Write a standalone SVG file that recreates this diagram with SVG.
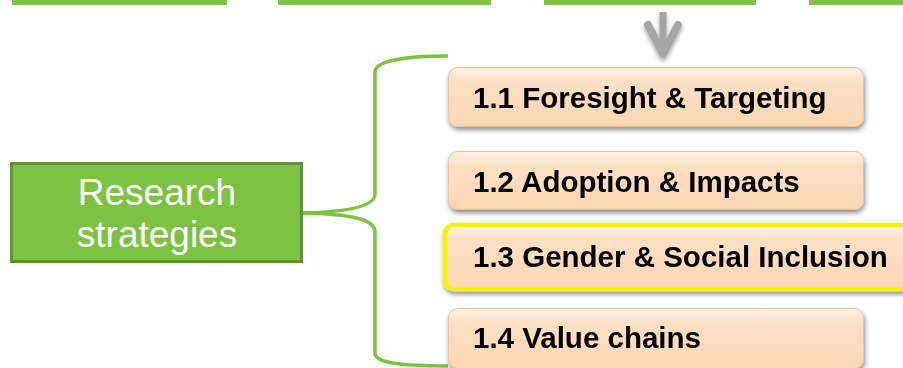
<svg xmlns="http://www.w3.org/2000/svg" width="903" height="368" viewBox="0 0 903 368">
  <defs>
    <linearGradient id="peach" x1="0" y1="0" x2="0" y2="1">
      <stop offset="0" stop-color="#fef1e4"/>
      <stop offset="0.25" stop-color="#fde0c4"/>
      <stop offset="1" stop-color="#fbd6b3"/>
    </linearGradient>
    <filter id="shadow" x="-10%" y="-20%" width="120%" height="150%">
      <feGaussianBlur in="SourceAlpha" stdDeviation="2.5"/>
      <feOffset dx="1" dy="3" result="b"/>
      <feComponentTransfer><feFuncA type="linear" slope="0.45"/></feComponentTransfer>
      <feMerge><feMergeNode/><feMergeNode in="SourceGraphic"/></feMerge>
    </filter>
    <filter id="ashadow" x="-50%" y="-30%" width="200%" height="160%">
      <feGaussianBlur in="SourceAlpha" stdDeviation="2"/>
      <feOffset dx="0" dy="3" result="b"/>
      <feComponentTransfer><feFuncA type="linear" slope="0.35"/></feComponentTransfer>
      <feMerge><feMergeNode/><feMergeNode in="SourceGraphic"/></feMerge>
    </filter>
  </defs>
  <style>
    .bar { fill: #7dc242; }
    .box { fill: url(#peach); stroke: #e8c29e; stroke-width: 1; }
    .lbl { font-family: "Liberation Sans", Arial, sans-serif; font-weight: bold; font-size: 29.5px; fill: #000; }
    .main { font-family: "Liberation Sans", Arial, sans-serif; font-size: 37px; fill: #fff; text-anchor: middle; }
    .brace { fill: none; stroke: #7dc242; stroke-width: 3.5; }
  </style>

  <g id="top-bars">
    <rect class="bar" x="12" y="0" width="215" height="5"/>
    <rect class="bar" x="278" y="0" width="213" height="5"/>
    <rect class="bar" x="544" y="0" width="212" height="5"/>
    <rect class="bar" x="809" y="0" width="94" height="5"/>
  </g>

  <g id="connectors">
    <g id="down-arrow" filter="url(#ashadow)" stroke="#a5a5a5" fill="none" stroke-linecap="round" stroke-linejoin="round">
      <line x1="663" y1="12" x2="663" y2="50" stroke-width="7" stroke-linecap="butt"/>
      <polyline points="648,25 663,54 678,25" stroke-width="8"/>
    </g>
    <g id="brace">
      <path class="brace" d="M448,56 C410,56 375,60 375,72 L375,194 C375,206 350,212 302,213"/>
      <path class="brace" d="M302,213 C350,214 375,219 375,232 L375,353 C375,362 395,366 448,366"/>
    </g>
  </g>

  <g id="node-research">
    <rect x="11.5" y="163.5" width="290" height="98" fill="#7dc242" stroke="#5e9232" stroke-width="3"/>
    <text class="main" x="157" y="205">Research</text>
    <text class="main" x="157" y="247">strategies</text>
  </g>

  <g id="node-1-1" filter="url(#shadow)">
    <rect class="box" x="448.5" y="67.5" width="415" height="59" rx="9"/>
    <text class="lbl" x="473" y="108">1.1 Foresight &amp; Targeting</text>
  </g>

  <g id="node-1-2" filter="url(#shadow)">
    <rect class="box" x="448.5" y="151.5" width="415" height="58" rx="9"/>
    <text class="lbl" x="473" y="192">1.2 Adoption &amp; Impacts</text>
  </g>

  <g id="node-1-3" filter="url(#shadow)">
    <rect x="445" y="225" width="470" height="64" rx="9" fill="url(#peach)" stroke="#f5f200" stroke-width="4.5"/>
    <text class="lbl" x="473" y="267">1.3 Gender &amp; Social Inclusion</text>
  </g>

  <g id="node-1-4" filter="url(#shadow)">
    <rect class="box" x="448.5" y="308.5" width="415" height="60" rx="9"/>
    <text class="lbl" x="473" y="348">1.4 Value chains</text>
  </g>
</svg>
